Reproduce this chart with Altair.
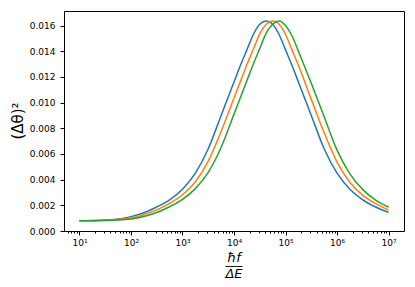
import altair as alt
import pandas as pd

# log10 of hbar f / Delta E at which values were read
exponents = [1.0, 1.5, 2.0, 2.25, 2.5, 2.75, 3.0, 3.25, 3.5, 3.75, 4.0, 4.125, 4.25,
             4.375, 4.5, 4.625, 4.75, 4.875, 5.0, 5.125, 5.25, 5.5, 5.75, 6.0, 6.25,
             6.5, 6.75, 7.0]

blue = [0.00080, 0.00085, 0.00112, 0.00142, 0.00187, 0.00243, 0.00325, 0.00450,
        0.00640, 0.00900, 0.01160, 0.01290, 0.01410, 0.01530, 0.01610, 0.01635,
        0.01610, 0.01530, 0.01410, 0.01290, 0.01160, 0.00900, 0.00640, 0.00450,
        0.00325, 0.00243, 0.00187, 0.00145]
orange = [0.00080, 0.00084, 0.00101, 0.00127, 0.00164, 0.00215, 0.00282, 0.00383,
          0.00544, 0.00775, 0.01035, 0.01165, 0.01295, 0.01415, 0.01535, 0.01610,
          0.01635, 0.01610, 0.01530, 0.01410, 0.01290, 0.01025, 0.00765, 0.00536,
          0.00378, 0.00278, 0.00213, 0.00163]
green = [0.00080, 0.00082, 0.00094, 0.00113, 0.00144, 0.00189, 0.00246, 0.00330,
         0.00457, 0.00650, 0.00910, 0.01040, 0.01170, 0.01300, 0.01420, 0.01540,
         0.01610, 0.01635, 0.01600, 0.01520, 0.01400, 0.01150, 0.00890, 0.00630,
         0.00445, 0.00322, 0.00240, 0.00185]

series_names = ["1", "2", "3"]
colors = ["#1f77b4", "#ff7f0e", "#2ca02c"]

y_ticks = [0.0, 0.002, 0.004, 0.006, 0.008, 0.010, 0.012, 0.014, 0.016]
major_ticks = [10 ** k for k in range(1, 8)]
minor_ticks = [m * 10 ** k for k in range(0, 8) for m in range(2, 10)
               if 5.02 < m * 10 ** k < 1.99e7]
x_ticks = sorted(major_ticks + minor_ticks)

rows = []
for name, vals in zip(series_names, [blue, orange, green]):
    for e, v in zip(exponents, vals):
        rows.append({"x": 10 ** e, "y": v, "s": name})
df = pd.DataFrame(rows)

is_major = "abs(log(datum.value)/LN10 - round(log(datum.value)/LN10)) < 1e-6"
label_expr = (is_major + " ? '10' + substring('⁰¹²³⁴⁵⁶⁷⁸⁹', round(log(datum.value)/LN10), "
              "round(log(datum.value)/LN10) + 1) : ''")

lines = alt.Chart(df).mark_line(strokeWidth=1.5, interpolate="monotone", clip=True).encode(
    x=alt.X("x:Q",
            scale=alt.Scale(type="log", domain=[10 ** 0.7, 10 ** 7.3], nice=False),
            axis=alt.Axis(values=x_ticks, labelExpr=label_expr, title=None, grid=False,
                          domain=False, labelOverlap=False, labelPadding=3,
                          tickSize={"condition": {"test": is_major, "value": 4}, "value": 2})),
    y=alt.Y("y:Q",
            scale=alt.Scale(domain=[0, 0.01713], nice=False),
            axis=alt.Axis(values=y_ticks, format=".3f", title=None, grid=False,
                          domain=False, tickSize=4, labelPadding=5)),
    color=alt.Color("s:N", scale=alt.Scale(domain=series_names, range=colors), legend=None),
)


def label(text, x, y, **kw):
    return alt.Chart(pd.DataFrame({"t": [text]})).mark_text(
        font="DejaVu Sans", color="black", **kw
    ).encode(text="t:N", x=alt.value(x), y=alt.value(y))


ylab = label("(Δθ)²", -46.5, 110, fontSize=15, angle=270, align="center", baseline="middle")
num = label("ħf", 170, 251.3, fontSize=13, fontStyle="italic", align="center", baseline="alphabetic")
den = label("ΔE", 170, 266.5, fontSize=13, fontStyle="italic", align="center", baseline="alphabetic")
bar = alt.Chart(pd.DataFrame({"a": [0]})).mark_rule(color="black", strokeWidth=0.9).encode(
    x=alt.value(161.5), x2=alt.value(178.5), y=alt.value(255.5)
)

chart = alt.layer(lines, ylab, num, bar, den).properties(
    width=340, height=220,
    autosize=alt.AutoSizeParams(type="none"),
    padding={"left": 56, "top": 3, "right": 3, "bottom": 48},
).configure_view(
    stroke="black", strokeWidth=1
).configure_axis(
    labelFont="DejaVu Sans", labelFontSize=9, labelColor="black", tickColor="black"
)

chart.save("out.html", embed_options={"renderer": "svg", "actions": False})
